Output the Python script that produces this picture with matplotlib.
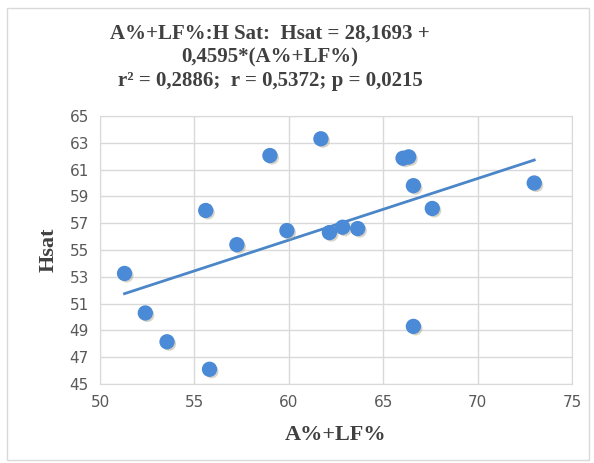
import matplotlib.pyplot as plt
import matplotlib.patheffects as pe
from matplotlib.patches import Rectangle
import numpy as np

# A%+LF% vs Hsat
af = [51.3, 52.4, 53.55, 55.8, 55.6, 57.25, 59.0, 59.9, 61.7, 62.15,
      62.85, 63.65, 66.05, 66.35, 66.6, 66.6, 67.6, 73.0]
hsat = [53.25, 50.3, 48.15, 46.1, 57.95, 55.4, 62.05, 56.45, 63.3, 56.3,
        56.7, 56.6, 61.85, 61.95, 59.8, 49.3, 58.1, 60.0]

intercept = 28.1693
slope = 0.4595

x_ticks = [50, 55, 60, 65, 70, 75]
y_ticks = [45, 47, 49, 51, 53, 55, 57, 59, 61, 63, 65]

fig = plt.figure(figsize=(5.94, 4.63), dpi=100)
ax = fig.add_axes([100/594, 1 - 384/463, 472/594, 268/463])

# chart area border
fig.patches.append(Rectangle((7/594, 3/463), 582/594, 452/463, transform=fig.transFigure,
                             fill=False, edgecolor="#d9d9d9", linewidth=1.0))

ax.scatter(af, hsat, s=100, color="#4a8ad6", zorder=3,
           path_effects=[pe.SimplePatchShadow(offset=(1.5, -1.5), shadow_rgbFace="#b0a890", alpha=0.5),
                         pe.Normal()])

xl = np.array([min(af), max(af)])
ax.plot(xl, intercept + slope * xl, color="#4a86c8", linewidth=2, zorder=2)

ax.set_xlim(50, 75)
ax.set_ylim(45, 65)
ax.set_xticks(x_ticks)
ax.set_yticks(y_ticks)
ax.grid(True, color="#d9d9d9", linewidth=1)
ax.set_axisbelow(True)
for s in ax.spines.values():
    s.set_color("#d9d9d9")
ax.tick_params(length=0, labelsize=11, labelcolor="#595959", pad=8)

serif = "Liberation Serif"
ax.set_xlabel("A%+LF%", fontsize=16, fontweight="bold", family=serif, color="#404040", labelpad=11)
ax.set_ylabel("Hsat", fontsize=16, fontweight="bold", family=serif, color="#404040", labelpad=8)

fig.text(270/594, 1 - 57/463,
         "A%+LF%:H Sat:  Hsat = 28,1693 +\n0,4595*(A%+LF%)\nr² = 0,2886;  r = 0,5372; p = 0,0215",
         ha="center", va="center", fontsize=15, fontweight="bold", family=serif,
         color="#404040", linespacing=1.25)

fig.savefig("out.png", dpi=100)
